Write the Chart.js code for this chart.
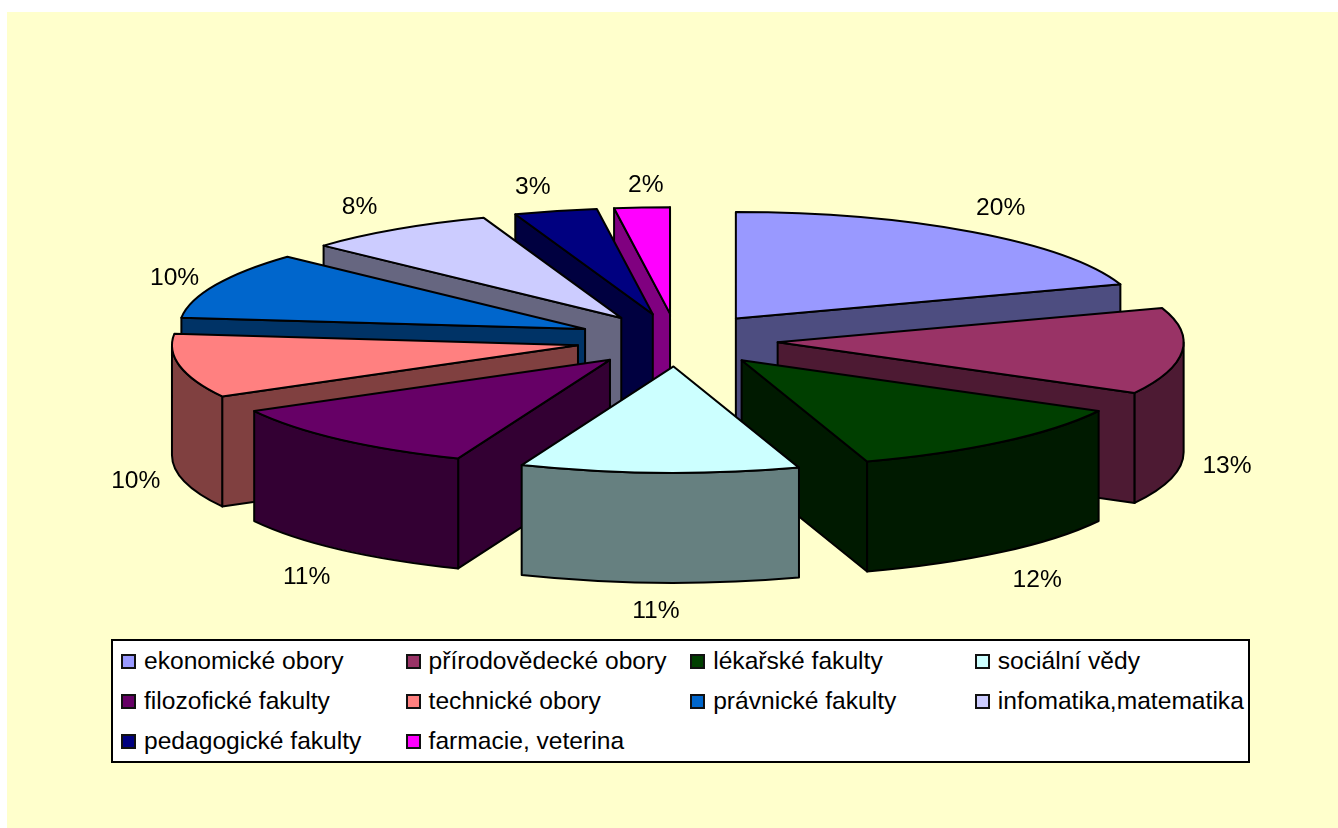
<!DOCTYPE html>
<html>
<head>
<meta charset="utf-8">
<title>Obory</title>
<script src="https://cdn.jsdelivr.net/npm/chart.js@4"></script>
<style>
    html, body { margin: 0; padding: 0; background: #fff; }
    #page { position: relative; width: 1338px; height: 828px; overflow: hidden; }
    #backdrop { position: absolute; left: 7px; top: 12px; right: 0; bottom: 0; background: #ffffcc; }
    #pie { position: absolute; left: 0; top: 0; }
    #legend {
        position: absolute; left: 111px; top: 639px; width: 1139px; height: 124px;
        box-sizing: border-box; border: 2px solid #000; background: #fff; padding-left: 8px;
        display: grid; grid-template-columns: repeat(4, 284.6px); grid-auto-rows: 40px;
        font: 24.6px "Liberation Sans", Arial, sans-serif; color: #000;
    }
    #legend div { display: flex; align-items: center; white-space: nowrap; }
    #legend i { width: 11px; height: 11px; border: 2px solid #111; margin-right: 8px; flex: none; }
</style>
</head>
<body>
<div id="page">
    <div id="backdrop"></div>
    <canvas id="pie" width="1338" height="828"></canvas>
    <div id="legend"></div>
</div>
<script>
// Chart data
const categories = ['ekonomické obory', 'přírodovědecké obory', 'lékařské fakulty', 'sociální vědy',
    'filozofické fakulty', 'technické obory', 'právnické fakulty', 'infomatika,matematika',
    'pedagogické fakulty', 'farmacie, veterina'];
const shares = [19.8, 13.1, 12.1, 11.1, 10.9, 9.7, 10.2, 7.6, 3.3, 2.2];
const topColors = ['#9999ff', '#993366', '#003f00', '#ccffff', '#660066', '#ff8080', '#0066cc', '#ccccff', '#000080', '#ff00ff'];
const wallColors = ['#4d4d80', '#4d1a33', '#001a00', '#668080', '#330033', '#804040', '#003366', '#666680', '#000040', '#800080'];

// Fake 3D settings
const squash = 0.262;    // vertical flattening of the pie
const depth = 110;       // wall height in px
const explode = 101;     // slice pull-out, before flattening
const labelFont = '24.6px "Liberation Sans", Arial, sans-serif';
// Hand placed percent labels, same idea as dragging them in the original
const labelNudges = [[2, -3], [0, 3], [7, 8], [-2, 2], [-4, 8], [0, 0], [0, 4], [-13, 0], [-12, 1], [7, 4]];

const total = shares.reduce((a, b) => a + b, 0);

// Where the tip of an exploded slice ends up on screen
function sliceTip(arc) {
    const mid = (arc.startAngle + arc.endAngle) / 2;
    return {
        x: arc.x + Math.cos(mid) * explode,
        y: arc.y + Math.sin(mid) * explode * squash
    };
}

function rimPoint(tip, arc, angle) {
    return {
        x: tip.x + Math.cos(angle) * arc.outerRadius,
        y: tip.y + Math.sin(angle) * arc.outerRadius * squash
    };
}

function fillStroke(ctx, color) {
    ctx.fillStyle = color;
    ctx.fill();
    ctx.stroke();
}

function drawRadialWall(ctx, tip, rim, color) {
    ctx.beginPath();
    ctx.moveTo(tip.x, tip.y);
    ctx.lineTo(rim.x, rim.y);
    ctx.lineTo(rim.x, rim.y + depth);
    ctx.lineTo(tip.x, tip.y + depth);
    ctx.closePath();
    fillStroke(ctx, color);
}

function drawSlice(ctx, arc, i) {
    const tip = sliceTip(arc);
    const rx = arc.outerRadius;
    const ry = rx * squash;
    const start = arc.startAngle;
    const end = arc.endAngle;

    // Only walls turned towards the viewer
    if (Math.cos(start) < 0) drawRadialWall(ctx, tip, rimPoint(tip, arc, start), wallColors[i]);
    if (Math.cos(end) > 0) drawRadialWall(ctx, tip, rimPoint(tip, arc, end), wallColors[i]);

    const from = Math.max(start, 0);
    const to = Math.min(end, Math.PI);
    if (from < to) {
        ctx.beginPath();
        ctx.ellipse(tip.x, tip.y, rx, ry, 0, from, to);
        ctx.ellipse(tip.x, tip.y + depth, rx, ry, 0, to, from, true);
        ctx.closePath();
        fillStroke(ctx, wallColors[i]);
    }

    // Top face is the library's own arc, flattened by the transform
    ctx.save();
    ctx.translate(tip.x, tip.y);
    ctx.scale(1, squash);
    ctx.translate(-arc.x, -arc.y);
    arc.draw(ctx);
    ctx.restore();

    ctx.beginPath();
    ctx.moveTo(tip.x, tip.y);
    ctx.ellipse(tip.x, tip.y, rx, ry, 0, start, end);
    ctx.closePath();
    ctx.stroke();
}

function drawLabel(ctx, arc, i) {
    const mid = (arc.startAngle + arc.endAngle) / 2;
    const rim = rimPoint(sliceTip(arc), arc, mid);
    const wall = Math.sin(mid) > 0 ? depth : 0;
    ctx.fillStyle = '#000';
    ctx.font = labelFont;
    ctx.textAlign = 'center';
    ctx.textBaseline = 'middle';
    ctx.fillText(Math.round(shares[i] / total * 100) + '%',
        rim.x + Math.cos(mid) * 45 + labelNudges[i][0],
        rim.y + wall + Math.sin(mid) * 26 + labelNudges[i][1]);
}

const pie3d = {
    id: 'pie3d',
    beforeDatasetDraw(chart, args) {
        const ctx = chart.ctx;
        const arcs = chart.getDatasetMeta(args.index).data;
        const order = arcs.map((arc, i) => i).sort((a, b) =>
            Math.sin((arcs[a].startAngle + arcs[a].endAngle) / 2) - Math.sin((arcs[b].startAngle + arcs[b].endAngle) / 2));

        ctx.save();
        ctx.lineWidth = 2;
        ctx.strokeStyle = '#000';
        ctx.lineJoin = 'round';
        order.forEach(i => drawSlice(ctx, arcs[i], i));
        ctx.restore();

        ctx.save();
        arcs.forEach((arc, i) => drawLabel(ctx, arc, i));
        ctx.restore();
        return false; // slices are already painted
    }
};

const legendBox = document.getElementById('legend');
categories.forEach((name, i) => {
    const item = document.createElement('div');
    const swatch = document.createElement('i');
    swatch.style.background = topColors[i];
    item.appendChild(swatch);
    item.appendChild(document.createTextNode(name));
    legendBox.appendChild(item);
});

new Chart(document.getElementById('pie'), {
    type: 'pie',
    data: {
        labels: categories,
        datasets: [{
            data: shares,
            backgroundColor: topColors,
            borderWidth: 0
        }]
    },
    options: {
        responsive: false,
        animation: false,
        radius: 406,
        layout: { padding: { left: 16, bottom: 148 } },
        plugins: {
            legend: { display: false },
            tooltip: { enabled: false }
        }
    },
    plugins: [pie3d]
});
</script>
</body>
</html>
